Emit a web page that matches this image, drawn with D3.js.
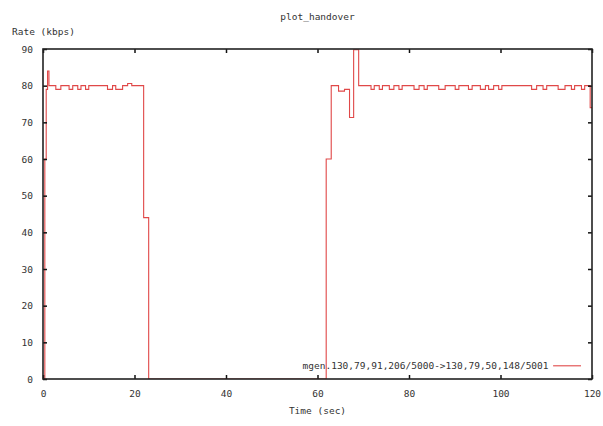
<!DOCTYPE html>
<html>
<head>
<meta charset="utf-8">
<script src="https://cdn.jsdelivr.net/npm/d3@7"></script>
<style>
  body { margin: 0; background: #fff; }
  text { font-family: "DejaVu Sans Mono", monospace; font-size: 9.5px; fill: #333; }
</style>
</head>
<body>
<svg id="chart"></svg>
<script>
// step points: rate (kbps) holds from each time until the next one
const times = [0, 0.4, 0.7, 1.0, 1.3, 2.8, 3.9, 5.7, 6.5, 7.6, 8.3, 9.3, 10.0, 14.1, 15.2, 15.9, 17.4,
  18.5, 19.4, 22.0, 23.1, 61.9, 63.0, 64.6, 65.9, 67.0, 67.9, 69.0,
  71.7, 72.4, 73.5, 74.2, 75.7, 76.7, 77.8, 78.5, 81.1, 82.2, 83.3, 84.0, 86.5, 87.9,
  90.1, 90.9, 93.0, 93.8, 95.6, 96.7, 97.4, 98.5, 99.6, 100.3, 106.8, 107.9, 109.3, 110.1,
  112.6, 114.1, 115.5, 116.2, 117.7, 118.4, 119.6, 120];
const rates = [0, 60, 79, 84, 80, 79, 80, 79, 80, 79, 80, 79, 80, 79, 80, 79, 80,
  80.6, 80, 44, 0, 60, 80, 78.5, 79, 71.3, 89.8, 80,
  79, 80, 79, 80, 79, 80, 79, 80, 79, 80, 79, 80, 79, 80,
  79, 80, 79, 80, 79, 80, 79, 80, 79, 80, 79, 80, 79, 80,
  79, 80, 79, 80, 79, 80, 74, 74];
const xTicks = [0, 20, 40, 60, 80, 100, 120];
const yTicks = [0, 10, 20, 30, 40, 50, 60, 70, 80, 90];
const seriesLabel = "mgen.130,79,91,206/5000->130,79,50,148/5001";

const W = 603, H = 426;
const margin = { top: 49, right: 11, bottom: 47, left: 43 };
const width = W - margin.left - margin.right;
const height = H - margin.top - margin.bottom;

const svg = d3.select("#chart").attr("width", W).attr("height", H);
const g = svg.append("g").attr("transform", `translate(${margin.left},${margin.top})`);

const x = d3.scaleLinear().domain([0, 120]).range([0, width]);
const y = d3.scaleLinear().domain([0, 90]).range([height, 0]);

// clip so the spike to 90 stays inside the frame
g.append("clipPath").attr("id", "plot-clip")
  .append("rect").attr("width", width).attr("height", height);

const data = times.map((t, i) => ({ t, r: rates[i] }));
const line = d3.line().x(d => x(d.t)).y(d => y(d.r)).curve(d3.curveStepAfter);

g.append("path")
  .datum(data)
  .attr("d", line)
  .attr("fill", "none")
  .attr("stroke", "#e04848")
  .attr("stroke-width", 1.1)
  .attr("clip-path", "url(#plot-clip)");

// axes (gnuplot style: inward, mirrored ticks)
const tick = 4;
const axStyle = sel => {
  sel.select(".domain").remove();
  sel.selectAll(".tick line").attr("stroke", "#111").attr("stroke-width", 1.5);
  sel.selectAll(".tick text").attr("fill", "#333").style("font-family", "DejaVu Sans Mono, monospace").style("font-size", "9.5px");
};
g.append("g").attr("transform", `translate(0,${height})`)
  .call(d3.axisBottom(x).tickValues(xTicks).tickSizeInner(-tick).tickSizeOuter(0).tickPadding(11))
  .call(axStyle);
g.append("g")
  .call(d3.axisTop(x).tickValues(xTicks).tickSizeInner(-tick).tickSizeOuter(0).tickFormat(""))
  .call(axStyle);
g.append("g")
  .call(d3.axisLeft(y).tickValues(yTicks).tickSizeInner(-tick).tickSizeOuter(0).tickPadding(10))
  .call(axStyle);
g.append("g").attr("transform", `translate(${width},0)`)
  .call(d3.axisRight(y).tickValues(yTicks).tickSizeInner(-tick).tickSizeOuter(0).tickFormat(""))
  .call(axStyle);

// frame
g.append("rect")
  .attr("width", width).attr("height", height)
  .attr("fill", "none").attr("stroke", "#222").attr("stroke-width", 1.6);

// legend
g.append("text")
  .attr("x", x(110.5)).attr("y", y(3.6)).attr("dy", "0.35em")
  .attr("text-anchor", "end")
  .text(seriesLabel);
g.append("line")
  .attr("x1", x(111.5)).attr("x2", x(117.6))
  .attr("y1", y(3.6)).attr("y2", y(3.6))
  .attr("stroke", "#e04848").attr("stroke-width", 1.1);

// titles
svg.append("text").attr("x", margin.left + width / 2).attr("y", 20)
  .attr("text-anchor", "middle").text("plot_handover");
svg.append("text").attr("x", 12).attr("y", 35).text("Rate (kbps)");
svg.append("text").attr("x", margin.left + width / 2).attr("y", 414)
  .attr("text-anchor", "middle").text("Time (sec)");
</script>
</body>
</html>
